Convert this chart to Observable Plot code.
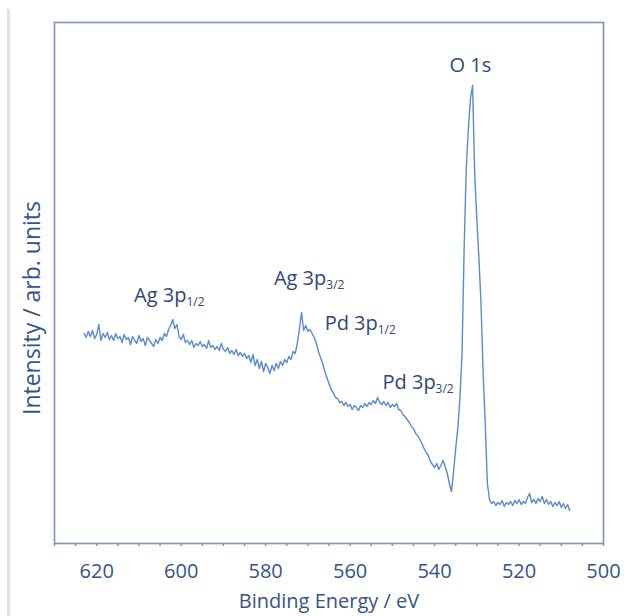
<!DOCTYPE html>
<html>
<head>
<meta charset="utf-8">
<script src="https://cdn.jsdelivr.net/npm/d3@7"></script>
<script src="https://cdn.jsdelivr.net/npm/@observablehq/plot@0.6"></script>
<style>
  html, body { margin: 0; padding: 0; background: #fff; }
  #wrap { position: relative; width: 629px; height: 616px; overflow: hidden; }
  #edge { position: absolute; left: 7px; top: 9px; width: 3px; height: 607px; background: #e2e2e2; }
  #chart { position: absolute; left: 0; top: 0; }
</style>
</head>
<body>
<div id="wrap"><div id="edge"></div><div id="chart"></div></div>
<script>
// Binding energy grid (eV), 623 -> 508 in 0.5 eV steps
const bindingEnergy = d3.range(623, 507.75, -0.5);
// Intensity (arb. units), one row per 5 eV
const intensity = [
  210,206,212,207,213,205,209,219,203,210,
  206,211,204,208,203,210,205,207,201,209,
  204,206,199,207,203,200,208,202,205,198,
  206,203,200,197,204,200,206,203,210,207,
  214,218,224,215,219,207,204,209,201,203,
  199,203,196,200,198,202,197,199,195,203,
  196,198,194,197,193,200,194,192,196,190,
  193,189,194,188,191,187,190,185,188,181,
  189,178,184,175,182,172,180,176,170,178,
  173,180,175,182,178,184,181,187,184,192,
  190,200,215,231,213,218,212,214,210,206,
  200,192,186,180,172,166,160,154,151,146,
  145,141,142,138,141,137,139,134,138,136,
  133,138,136,140,137,141,139,143,140,146,
  141,139,142,138,141,136,139,137,140,134,
  133,129,127,124,121,117,115,110,108,104,
  100,95,91,88,82,79,76,80,74,78,
  83,77,70,60,52,72,95,115,145,190,
  295,375,415,445,458,370,325,285,240,170,
  120,60,44,40,42,38,41,39,43,37,
  41,39,42,38,43,40,44,39,42,40,
  46,50,41,44,40,45,42,47,40,44,
  39,42,37,41,38,42,36,40,35,39,
  33
];
// Peak annotations
const peakLabel = ["O 1s", "Ag 3p", "Ag 3p", "Pd 3p", "Pd 3p"];
const peakSub   = ["", "1/2", "3/2", "1/2", "3/2"];
const peakBE    = [531.5, 602.8, 569.7, 557.6, 543.9];
const peakI     = [478, 248, 265, 220, 161];
// Axis ticks
const majorTicks = [620, 600, 580, 560, 540, 520, 500];
const minorTicks = d3.range(500, 631, 5);
const xLabel = "Binding Energy / eV";
const yLabel = "Intensity / arb. units";

const spectrum = bindingEnergy.map((e, i) => ({e, v: intensity[i]}));
const annots = peakLabel.map((t, i) => ({t, s: peakSub[i], e: peakBE[i], v: peakI[i]}));

const textColor = "#34548a";
const frameColor = "#7d92b6";

const svg = Plot.plot({
  width: 629,
  height: 616,
  marginLeft: 54,
  marginRight: 26,
  marginTop: 22,
  marginBottom: 73,
  style: {fontFamily: "'Open Sans', sans-serif", background: "transparent"},
  x: {domain: [630, 500]},
  y: {domain: [0, 521], axis: null},
  marks: [
    Plot.line(spectrum, {x: "e", y: "v", stroke: "#5a8bd0", strokeWidth: 1.4}),
    Plot.frame({stroke: frameColor, strokeWidth: 1.6}),
    Plot.axisX({ticks: minorTicks, tickSize: 3, text: null, stroke: frameColor, strokeWidth: 1.4, label: null}),
    Plot.axisX({ticks: majorTicks, tickSize: 0, tickPadding: 20, fontSize: 20, fill: textColor, label: null}),
    Plot.text([xLabel], {frameAnchor: "bottom", textAnchor: "middle", lineAnchor: "middle", dy: 58, fontSize: 20, fill: textColor}),
    Plot.text([yLabel], {frameAnchor: "left", textAnchor: "middle", rotate: -90, dx: -22, dy: 25, lineAnchor: "middle", fontSize: 23, fill: textColor}),
    Plot.text(annots, {x: "e", y: "v", text: "t", textAnchor: "middle", lineAnchor: "middle", fontSize: 20, fill: "#2f4876"})
  ]
});

// add subscripts as real text tspans
d3.select(svg).selectAll("g").each(function() {
  const texts = d3.select(this).selectChildren("text");
  if (texts.size() === annots.length && texts.nodes()[0].textContent === peakLabel[0]) {
    texts.each(function(_, i) {
      if (annots[i].s) {
        d3.select(this).append("tspan")
          .attr("font-size", 12)
          .attr("dy", "0.35em")
          .text(annots[i].s);
      }
    });
  }
});

document.getElementById("chart").appendChild(svg);
</script>
</body>
</html>
